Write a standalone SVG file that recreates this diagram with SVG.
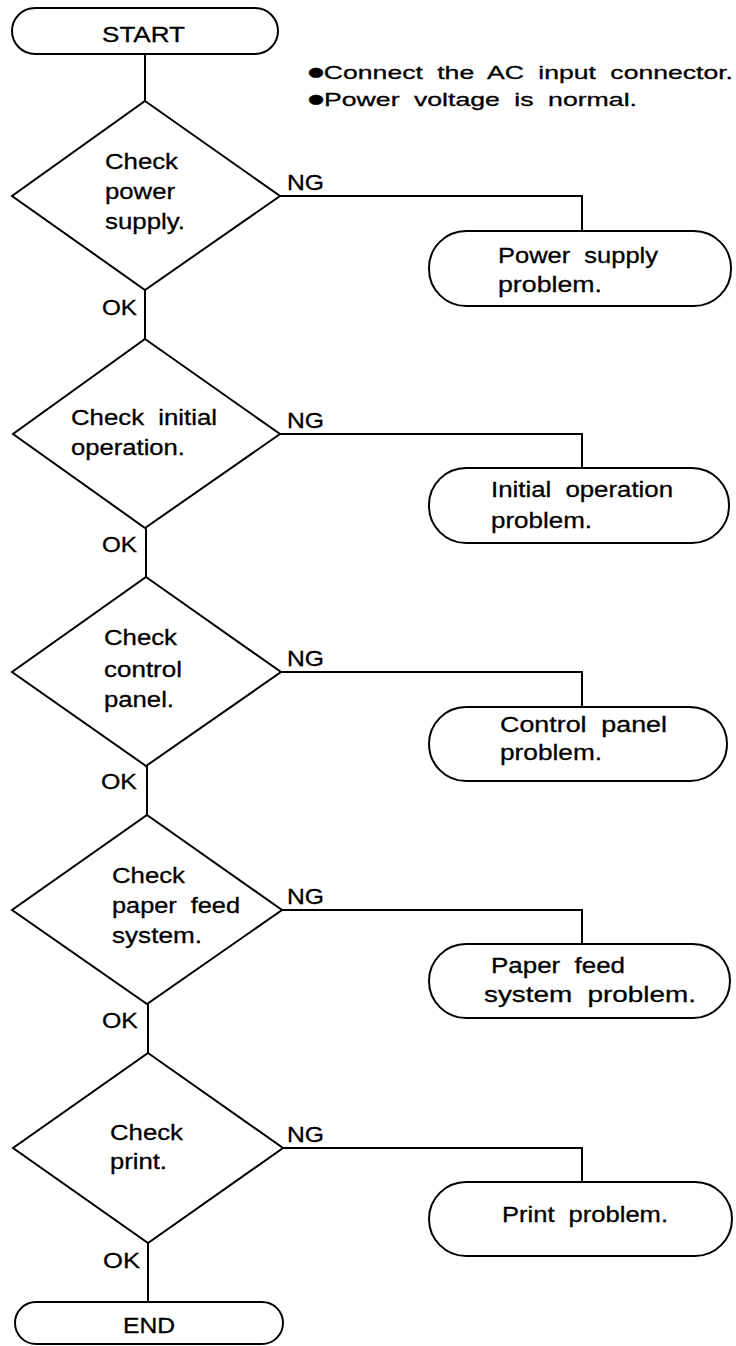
<svg xmlns="http://www.w3.org/2000/svg" width="736" height="1346" viewBox="0 0 736 1346">
<style>
  .shape { fill: #fff; stroke: #000; stroke-width: 2; }
  .conn { fill: none; stroke: #000; stroke-width: 2; }
  text { font-family: "Liberation Sans", Arial, Helvetica, sans-serif; font-size: 22px; fill: #000; stroke: #000; stroke-width: 0.3; }
  .note { font-size: 19px; }
  .bullet { font-family: "DejaVu Sans", sans-serif; font-size: 13px; }
</style>
<rect width="736" height="1346" fill="#fff"/>

<g id="connectors">
  <polyline class="conn" points="145,54 145,101"/>
  <polyline class="conn" points="145,290 145,339"/>
  <polyline class="conn" points="146,528 146,577"/>
  <polyline class="conn" points="147,766 147,815"/>
  <polyline class="conn" points="148,1004 148,1053"/>
  <polyline class="conn" points="148,1243 148,1302"/>
  <polyline class="conn" points="280,196 582,196 582,231"/>
  <polyline class="conn" points="280,434 582,434 582,468"/>
  <polyline class="conn" points="281,672 582,672 582,707"/>
  <polyline class="conn" points="282,910 582,910 582,944"/>
  <polyline class="conn" points="283,1148 582,1148 582,1182"/>
  <text x="287" y="190" textLength="37" lengthAdjust="spacingAndGlyphs">NG</text>
  <text x="287" y="428" textLength="37" lengthAdjust="spacingAndGlyphs">NG</text>
  <text x="287" y="666" textLength="37" lengthAdjust="spacingAndGlyphs">NG</text>
  <text x="287" y="904" textLength="37" lengthAdjust="spacingAndGlyphs">NG</text>
  <text x="287" y="1142" textLength="37" lengthAdjust="spacingAndGlyphs">NG</text>
  <text x="102" y="315" textLength="35" lengthAdjust="spacingAndGlyphs">OK</text>
  <text x="102" y="552" textLength="35" lengthAdjust="spacingAndGlyphs">OK</text>
  <text x="101" y="789" textLength="36" lengthAdjust="spacingAndGlyphs">OK</text>
  <text x="102" y="1028" textLength="36" lengthAdjust="spacingAndGlyphs">OK</text>
  <text x="103" y="1268" textLength="37" lengthAdjust="spacingAndGlyphs">OK</text>
</g>

<g id="start">
  <rect class="shape" x="12" y="8" width="266" height="46" rx="23" ry="23"/>
  <text x="102" y="42" textLength="83" lengthAdjust="spacingAndGlyphs">START</text>
</g>

<g id="note">
  <text class="note" x="308" y="79" textLength="425" lengthAdjust="spacingAndGlyphs" word-spacing="5"><tspan class="bullet" dy="-3">●</tspan><tspan dy="3">Connect the AC input connector.</tspan></text>
  <text class="note" x="308" y="106" textLength="329" lengthAdjust="spacingAndGlyphs" word-spacing="5"><tspan class="bullet" dy="-3">●</tspan><tspan dy="3">Power voltage is normal.</tspan></text>
</g>

<g id="check-power">
  <polygon class="shape" points="145,101 280,196 145,290 12,196"/>
  <text x="105" y="169" textLength="73" lengthAdjust="spacingAndGlyphs">Check</text>
  <text x="105" y="199" textLength="70" lengthAdjust="spacingAndGlyphs">power</text>
  <text x="105" y="229" textLength="80" lengthAdjust="spacingAndGlyphs">supply.</text>
</g>

<g id="power-problem">
  <rect class="shape" x="429" y="231" width="302" height="75" rx="37" ry="37"/>
  <text x="498" y="263" textLength="160" lengthAdjust="spacingAndGlyphs" word-spacing="6">Power supply</text>
  <text x="498" y="292" textLength="104" lengthAdjust="spacingAndGlyphs">problem.</text>
</g>

<g id="check-initial">
  <polygon class="shape" points="145,339 280,434 145,528 13,434"/>
  <text x="71" y="425" textLength="146" lengthAdjust="spacingAndGlyphs" word-spacing="6">Check initial</text>
  <text x="71" y="455" textLength="114" lengthAdjust="spacingAndGlyphs">operation.</text>
</g>

<g id="initial-problem">
  <rect class="shape" x="429" y="468" width="300" height="75" rx="37" ry="37"/>
  <text x="491" y="497" textLength="182" lengthAdjust="spacingAndGlyphs" word-spacing="6">Initial operation</text>
  <text x="491" y="528" textLength="101" lengthAdjust="spacingAndGlyphs">problem.</text>
</g>

<g id="check-panel">
  <polygon class="shape" points="146,577 281,672 146,766 12,672"/>
  <text x="104" y="645" textLength="73" lengthAdjust="spacingAndGlyphs">Check</text>
  <text x="104" y="677" textLength="78" lengthAdjust="spacingAndGlyphs">control</text>
  <text x="104" y="707" textLength="70" lengthAdjust="spacingAndGlyphs">panel.</text>
</g>

<g id="panel-problem">
  <rect class="shape" x="429" y="707" width="298" height="74" rx="37" ry="37"/>
  <text x="500" y="732" textLength="167" lengthAdjust="spacingAndGlyphs" word-spacing="6">Control panel</text>
  <text x="500" y="760" textLength="102" lengthAdjust="spacingAndGlyphs">problem.</text>
</g>

<g id="check-paper">
  <polygon class="shape" points="147,815 282,910 147,1004 12,910"/>
  <text x="112" y="883" textLength="73" lengthAdjust="spacingAndGlyphs">Check</text>
  <text x="112" y="913" textLength="128" lengthAdjust="spacingAndGlyphs" word-spacing="6">paper feed</text>
  <text x="112" y="943" textLength="90" lengthAdjust="spacingAndGlyphs">system.</text>
</g>

<g id="paper-problem">
  <rect class="shape" x="429" y="944" width="301" height="74" rx="37" ry="37"/>
  <text x="491" y="973" textLength="134" lengthAdjust="spacingAndGlyphs" word-spacing="6">Paper feed</text>
  <text x="484" y="1002" textLength="212" lengthAdjust="spacingAndGlyphs" word-spacing="6">system problem.</text>
</g>

<g id="check-print">
  <polygon class="shape" points="148,1053 283,1148 148,1243 13,1148"/>
  <text x="110" y="1140" textLength="73" lengthAdjust="spacingAndGlyphs">Check</text>
  <text x="110" y="1169" textLength="57" lengthAdjust="spacingAndGlyphs">print.</text>
</g>

<g id="print-problem">
  <rect class="shape" x="429" y="1182" width="303" height="74" rx="37" ry="37"/>
  <text x="502" y="1222" textLength="166" lengthAdjust="spacingAndGlyphs" word-spacing="6">Print problem.</text>
</g>

<g id="end">
  <rect class="shape" x="15" y="1302" width="268" height="42" rx="21" ry="21"/>
  <text x="123" y="1333" textLength="52" lengthAdjust="spacingAndGlyphs">END</text>
</g>
</svg>
